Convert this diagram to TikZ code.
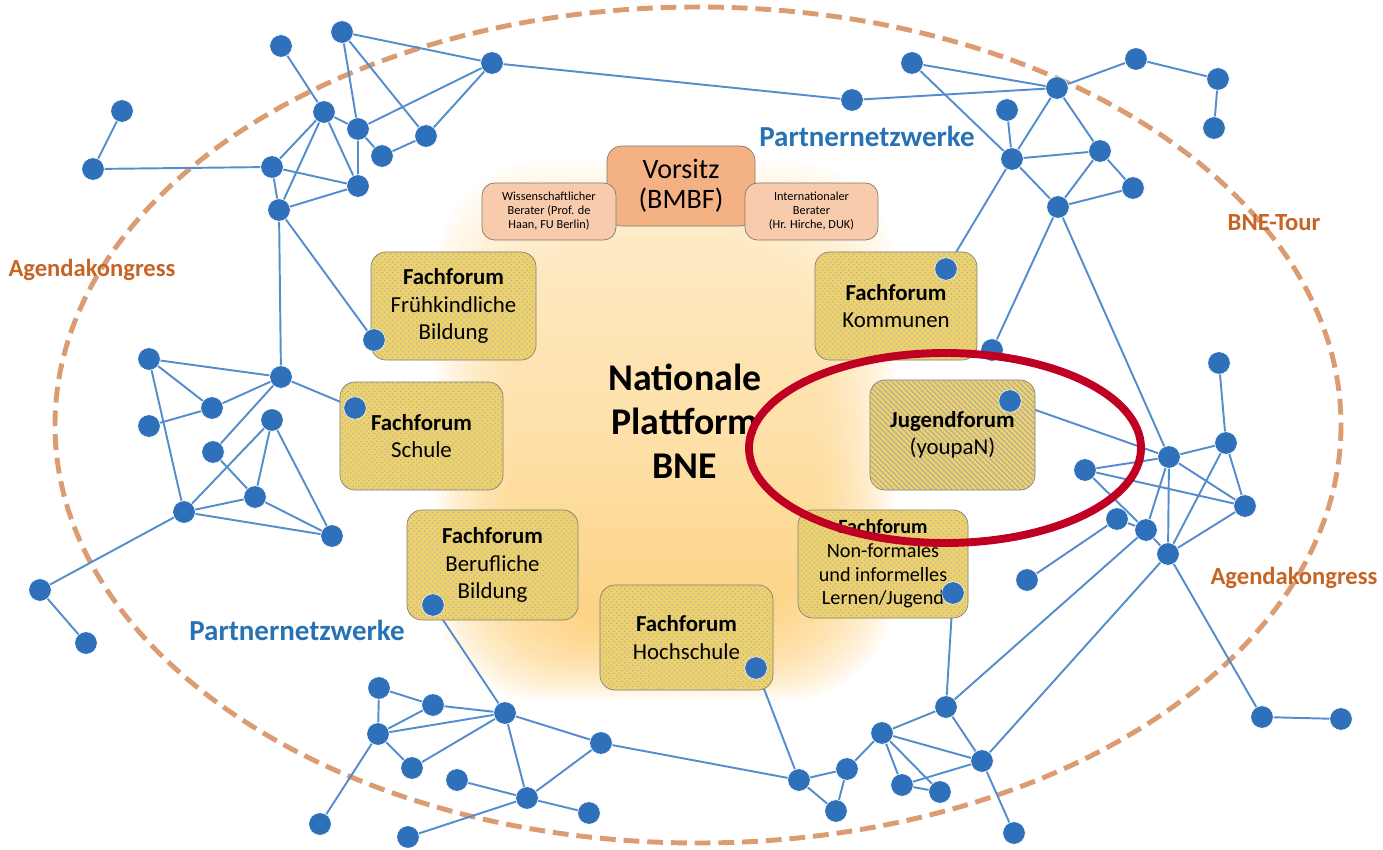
\documentclass[tikz,border=0pt]{standalone}
\usepackage{fontspec}
\setmainfont{Carlito}
\usetikzlibrary{patterns}
\definecolor{dotblue}{RGB}{46,112,185}
\definecolor{edgeblue}{RGB}{84,141,206}
\definecolor{forumyellow}{RGB}{238,210,105}
\definecolor{boxgray}{RGB}{125,125,110}
\definecolor{chairorange}{RGB}{244,177,131}
\definecolor{advisorpink}{RGB}{248,203,173}
\definecolor{tourdash}{RGB}{218,156,112}
\definecolor{tourtext}{RGB}{197,100,35}
\definecolor{netblue}{RGB}{38,114,180}
\definecolor{markred}{RGB}{192,0,35}
\definecolor{glow}{RGB}{253,198,95}
\tikzstyle{bluedot}=[circle,draw=white,line width=0.3pt,fill=dotblue,
                     inner sep=0pt,minimum size=4.5mm]
\tikzstyle{link}=[draw=edgeblue,line width=1.1pt]
\tikzstyle{forum}=[draw=boxgray,rounded corners=3mm,fill=forumyellow,
                   postaction={pattern=crosshatch dots,pattern color=black!30},
                   align=center,inner sep=0pt,
                   font=\fontsize{13}{15.5}\selectfont]
\tikzstyle{adviser}=[draw=boxgray,rounded corners=2.5mm,fill=advisorpink,
                     align=center,inner sep=0pt,
                     font=\fontsize{7}{8}\selectfont]
\tikzstyle{netlabel}=[text=netblue,font=\bfseries\fontsize{16.5}{18}\selectfont]
\tikzstyle{eventlabel}=[text=tourtext,font=\bfseries\fontsize{14}{16}\selectfont]
\pgfdeclarelayer{glowlayer}
\pgfdeclarelayer{edgelayer}
\pgfsetlayers{glowlayer,edgelayer,main}

\begin{document}
\begin{tikzpicture}[x=0.2mm,y=-0.2mm]
  \useasboundingbox (0,0) rectangle (1383,850);
  % soft glow and the tour ellipse
  \begin{pgfonlayer}{glowlayer}
    \foreach \k in {0,...,19}
      \shade[top color=glow!40,bottom color=glow,opacity=0.07,rounded corners=22mm]
        (435+\k*4,160+\k*4) rectangle (895-\k*4,700-\k*4);
    \draw[tourdash,line width=2.8pt,dash pattern=on 9pt off 4.5pt]
      (698,425) ellipse [x radius=643,y radius=418];
  \end{pgfonlayer}

  % platform boxes
  \node (vors) at (681,186) [draw=boxgray,rounded corners=3mm,fill=chairorange,
        minimum width=29.6mm,minimum height=16mm,align=center,
        font=\fontsize{16}{17}\selectfont]{Vorsitz\\(BMBF)};
  \node (wiss) at (549,211.5) [adviser,minimum width=26.8mm,minimum height=11.4mm]
        {Wissenschaftlicher\\Berater (Prof. de\\Haan, FU Berlin)};
  \node (intl) at (811.5,211.5) [adviser,minimum width=26.6mm,minimum height=11.4mm]
        {Internationaler\\Berater\\(Hr. Hirche, DUK)};
  \node (fruh) at (453.5,306) [forum,minimum width=33mm,minimum height=21.6mm]
        {\textbf{Fachforum}\\Frühkindliche\\Bildung};
  \node (komm) at (896,306) [forum,minimum width=32.4mm,minimum height=21.6mm]
        {\textbf{Fachforum}\\Kommunen};
  \node (schu) at (421.5,436) [forum,minimum width=32.6mm,minimum height=21.6mm]
        {\textbf{Fachforum}\\Schule};
  \node (juge) at (952.5,435) [forum,minimum width=33mm,minimum height=22mm,
        postaction={pattern=north west lines,pattern color=black!35}]
        {\textbf{Jugendforum}\\(youpaN)};
  \node (beru) at (492.5,565) [forum,minimum width=34.2mm,minimum height=22mm]
        {\textbf{Fachforum}\\Berufliche\\Bildung};
  \node (nonf) at (883,564) [forum,minimum width=34mm,minimum height=21.6mm,
        font=\fontsize{11.5}{13.5}\selectfont]
        {\textbf{Fachforum}\\Non-formales\\und informelles\\Lernen/Jugend};
  \node (hoch) at (686.5,637.5) [forum,minimum width=34.6mm,minimum height=21mm]
        {\textbf{Fachforum}\\Hochschule};
  \node (npb) at (685,421) [align=center,font=\bfseries\fontsize{21.5}{25}\selectfont]
        {Nationale\\Plattform\\BNE};

  % network dots
  \node (a1) at (281,46) [bluedot]{};
  \node (a2) at (342,32) [bluedot]{};
  \node (a3) at (492,63) [bluedot]{};
  \node (a4) at (122,111) [bluedot]{};
  \node (a5) at (324,112) [bluedot]{};
  \node (a6) at (358,129) [bluedot]{};
  \node (a7) at (426,136) [bluedot]{};
  \node (a8) at (382,156) [bluedot]{};
  \node (a9) at (93,169) [bluedot]{};
  \node (a10) at (272,167) [bluedot]{};
  \node (a11) at (358,186) [bluedot]{};
  \node (a12) at (279,210) [bluedot]{};
  \node (a13) at (374,340) [bluedot]{};
  \node (t1) at (852,100) [bluedot]{};
  \node (t2) at (912,63) [bluedot]{};
  \node (t3) at (1007,110) [bluedot]{};
  \node (t4) at (1057,88) [bluedot]{};
  \node (t5) at (1136,59) [bluedot]{};
  \node (t6) at (1218,79) [bluedot]{};
  \node (t7) at (1214,128) [bluedot]{};
  \node (t8) at (1012,159) [bluedot]{};
  \node (t9) at (1100,151) [bluedot]{};
  \node (t10) at (1133,188) [bluedot]{};
  \node (t11) at (1058,207) [bluedot]{};
  \node (t12) at (946,269) [bluedot]{};
  \node (t13) at (992,350) [bluedot]{};
  \node (r1) at (1010,401) [bluedot]{};
  \node (r3) at (1219,363) [bluedot]{};
  \node (r4) at (1226,443) [bluedot]{};
  \node (r5) at (1169,457) [bluedot]{};
  \node (r6) at (1085,470) [bluedot]{};
  \node (r7) at (1245,506) [bluedot]{};
  \node (r8) at (1117,519) [bluedot]{};
  \node (r9) at (1146,530) [bluedot]{};
  \node (r10) at (1168,554) [bluedot]{};
  \node (r11) at (1027,580) [bluedot]{};
  \node (r12) at (1262,717) [bluedot]{};
  \node (r13) at (1341,719) [bluedot]{};
  \node (l1) at (149,359) [bluedot]{};
  \node (l2) at (281,377) [bluedot]{};
  \node (l3) at (355,408) [bluedot]{};
  \node (l4) at (212,408) [bluedot]{};
  \node (l5) at (149,426) [bluedot]{};
  \node (l6) at (272,420) [bluedot]{};
  \node (l7) at (213,452) [bluedot]{};
  \node (l8) at (255,497) [bluedot]{};
  \node (l9) at (184,512) [bluedot]{};
  \node (l10) at (332,536) [bluedot]{};
  \node (l11) at (40,590) [bluedot]{};
  \node (l12) at (86,643) [bluedot]{};
  \node (bl0) at (433,605) [bluedot]{};
  \node (bl1) at (379,688) [bluedot]{};
  \node (bl2) at (433,705) [bluedot]{};
  \node (bl3) at (505,713) [bluedot]{};
  \node (bl4) at (378,734) [bluedot]{};
  \node (bl5) at (601,743) [bluedot]{};
  \node (bl6) at (412,768) [bluedot]{};
  \node (bl7) at (457,780) [bluedot]{};
  \node (bl8) at (527,798) [bluedot]{};
  \node (bl9) at (589,813) [bluedot]{};
  \node (bl10) at (320,824) [bluedot]{};
  \node (bl11) at (408,837) [bluedot]{};
  \node (br0) at (756,668) [bluedot]{};
  \node (brn) at (953,593) [bluedot]{};
  \node (br1) at (799,780) [bluedot]{};
  \node (br2) at (847,769) [bluedot]{};
  \node (br3) at (836,811) [bluedot]{};
  \node (br4) at (882,733) [bluedot]{};
  \node (br5) at (946,707) [bluedot]{};
  \node (br6) at (982,761) [bluedot]{};
  \node (br7) at (902,785) [bluedot]{};
  \node (br8) at (940,792) [bluedot]{};
  \node (br9) at (1014,833) [bluedot]{};

  % connections
  \begin{pgfonlayer}{edgelayer}
    \draw[link] (a1) -- (a5) -- (a6) -- (a3) -- (a2) -- (a6);
    \draw[link] (a2) -- (a7) -- (a3);
    \draw[link] (a7) -- (a8) -- (a6) -- (a11) -- (a5) -- (a10) -- (a9) -- (a4);
    \draw[link] (a10) -- (a11) -- (a12) -- (a10);
    \draw[link] (a5) -- (a12) -- (a13);
    \draw[link] (a12) -- (l2);
    \draw[link] (a3) -- (t1) -- (t4);
    \draw[link] (t2) -- (t4) -- (t5) -- (t6) -- (t7);
    \draw[link] (t2) -- (t8) -- (t3);
    \draw[link] (t4) -- (t8) -- (t9) -- (t4);
    \draw[link] (t8) -- (t11) -- (t9) -- (t10) -- (t11);
    \draw[link] (t8) -- (t12);
    \draw[link] (t11) -- (t13);
    \draw[link] (t11) -- (r5);
    \draw[link] (r1) -- (r5) -- (r4) -- (r3);
    \draw[link] (r4) -- (r7) -- (r5) -- (r6) -- (r7) -- (r10) -- (r4);
    \draw[link] (r5) -- (r9);
    \draw[link] (r5) -- (r10);
    \draw[link] (r6) -- (r9) -- (r10);
    \draw[link] (r8) -- (r9);
    \draw[link] (r8) -- (r11);
    \draw[link] (r9) -- (br5);
    \draw[link] (r10) -- (br6);
    \draw[link] (r10) -- (r12) -- (r13);
    \draw[link] (l1) -- (l2) -- (l3);
    \draw[link] (l1) -- (l4) -- (l2) -- (l7) -- (l8) -- (l6) -- (l9) -- (l1);
    \draw[link] (l4) -- (l5);
    \draw[link] (l6) -- (l10) -- (l9) -- (l8) -- (l10);
    \draw[link] (l9) -- (l11) -- (l12);
    \draw[link] (bl0) -- (bl3);
    \draw[link] (bl1) -- (bl2) -- (bl3) -- (bl4) -- (bl1);
    \draw[link] (bl2) -- (bl4) -- (bl6) -- (bl3) -- (bl5) -- (bl8) -- (bl3);
    \draw[link] (bl4) -- (bl10);
    \draw[link] (bl7) -- (bl8) -- (bl9);
    \draw[link] (bl8) -- (bl11);
    \draw[link] (bl5) -- (br1);
    \draw[link] (br0) -- (br1) -- (br2) -- (br3) -- (br1);
    \draw[link] (br2) -- (br4) -- (br5) -- (brn);
    \draw[link] (br4) -- (br6) -- (br5);
    \draw[link] (br4) -- (br7) -- (br6);
    \draw[link] (br4) -- (br8) -- (br7);
    \draw[link] (br6) -- (br9);
  \end{pgfonlayer}

  % labels
  \node (pn1) at (867,136) [netlabel]{Partnernetzwerke};
  \node (pn2) at (297,630) [netlabel]{Partnernetzwerke};
  \node (ak1) at (92,270) [eventlabel]{Agendakongress};
  \node (ak2) at (1294,578) [eventlabel]{Agendakongress};
  \node (tour) at (1274,223) [eventlabel]{BNE-Tour};

  % highlight
  \draw[markred,line width=4.5pt] (945,448) ellipse [x radius=196,y radius=95];
\end{tikzpicture}
\end{document}
